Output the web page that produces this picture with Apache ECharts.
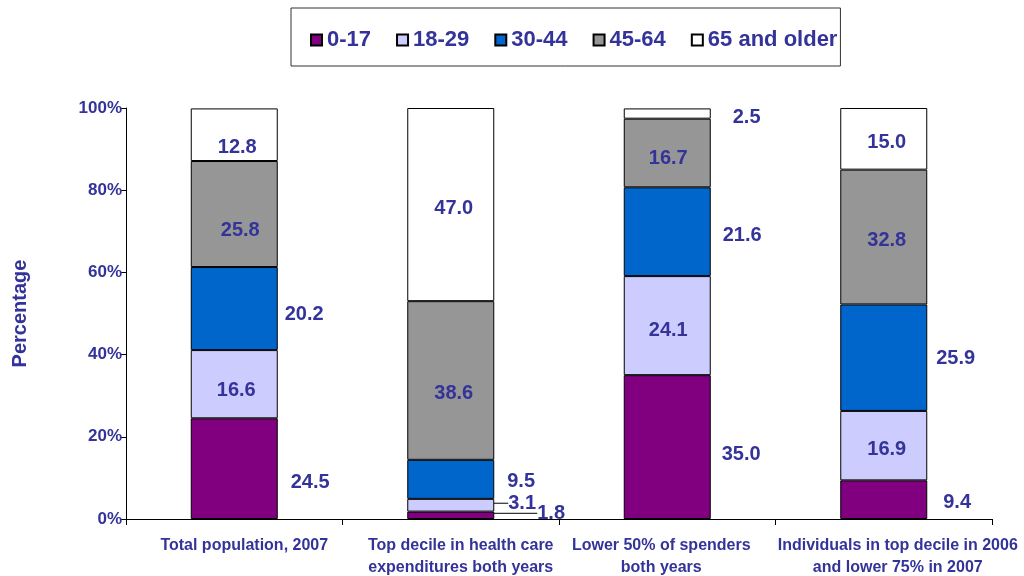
<!DOCTYPE html>
<html>
<head>
<meta charset="utf-8">
<script src="https://cdn.jsdelivr.net/npm/echarts@6/dist/echarts.min.js"></script>
<style>html,body{margin:0;padding:0;background:#fff;}#c{width:1024px;height:576px;}</style>
</head>
<body>
<div id="c"></div>
<script>
var categories = ['Total population, 2007', 'Top decile in health care\nexpenditures both years', 'Lower 50% of spenders\nboth years', 'Individuals in top decile in 2006\nand lower 75% in 2007'];
var seriesNames = ['0-17', '18-29', '30-44', '45-64', '65 and older'];
var age0_17 = [24.5, 1.8, 35.0, 9.4];
var age18_29 = [16.6, 3.1, 24.1, 16.9];
var age30_44 = [20.2, 9.5, 21.6, 25.9];
var age45_64 = [25.8, 38.6, 16.7, 32.8];
var age65plus = [12.8, 47.0, 2.5, 15.0];
var yTicks = [0, 20, 40, 60, 80, 100];

var values = [age0_17, age18_29, age30_44, age45_64, age65plus];
var colors = ['#800080', '#CCCCFF', '#0066CC', '#969696', '#FFFFFF'];
var textColor = '#333399';
var font = '"Liberation Sans", Arial, sans-serif';

// label placement styling per series per category:
// ['in', dx, dy] inside moved by dx/dy; ['r', distance, dy] to the right; ['lead', dx, dy] moved with guide line
var placement = [
  [['r', 13, 11], ['lead', 43, -5], ['r', 11, 4], ['r', 16, 0]],
  [['in', 2, 3], ['lead', 14, -5], ['in', 1, 2], ['in', 3, 1]],
  [['r', 7, 3], ['r', 13, -1], ['r', 12, 1], ['r', 9, -2]],
  [['in', 6, 13], ['in', 3, 10], ['in', 1, 2], ['in', 3, 0]],
  [['in', 3, 10], ['in', 3, 1], ['r', 22, 1], ['in', 3, 1]]
];
var baseDy = 3;
// category label horizontal shift (styling)
var catShift = [10, 10, -6, 14];

var series = seriesNames.map(function (name, s) {
  return {
    name: name,
    type: 'bar',
    stack: 'total',
    barWidth: 87,
    itemStyle: { color: colors[s], borderColor: '#000', borderWidth: 1 },
    labelLine: { show: false, lineStyle: { color: '#000', width: 1 } },
    labelLayout: function (params) {
      var p = placement[s][params.dataIndex];
      if (p[0] === 'r') return { dy: p[2] + baseDy };
      return { dx: p[1], dy: p[2] + baseDy };
    },
    data: values[s].map(function (v, i) {
      var p = placement[s][i];
      var label = {
        show: true,
        formatter: function (d) { return d.value.toFixed(1); },
        color: textColor,
        fontFamily: font,
        fontWeight: 'bold',
        fontSize: 20
      };
      var item = { value: v, label: label };
      if (p[0] === 'in') {
        label.position = 'inside';
      } else if (p[0] === 'r') {
        label.position = 'right';
        label.distance = p[1];
      } else {
        label.position = 'right';
        label.distance = 0;
        item.labelLine = { show: true, lineStyle: { color: '#000', width: 1 } };
      }
      return item;
    })
  };
});

var catData = categories.map(function (c, i) {
  var sh = catShift[i];
  return {
    value: c,
    textStyle: { padding: sh >= 0 ? [0, 0, 0, 2 * sh] : [0, -2 * sh, 0, 0] }
  };
});

var chart = echarts.init(document.getElementById('c'));
chart.setOption({
  animation: false,
  backgroundColor: '#fff',
  legend: {
    data: seriesNames,
    left: 291,
    top: 8,
    padding: [21, 3, 15, 19],
    itemGap: 25,
    itemWidth: 11,
    itemHeight: 11,
    icon: 'rect',
    borderColor: '#333',
    borderWidth: 1,
    textStyle: { color: textColor, fontFamily: font, fontWeight: 'bold', fontSize: 22 }
  },
  grid: { left: 126, right: 32, top: 108, bottom: 57, containLabel: false, outerBoundsMode: 'none' },
  xAxis: {
    type: 'category',
    data: catData,
    axisLine: { lineStyle: { color: '#000', width: 1 } },
    axisTick: { show: true, length: 6, lineStyle: { color: '#000' } },
    axisLabel: {
      interval: 0,
      margin: 16,
      color: textColor,
      fontFamily: font,
      fontWeight: 'bold',
      fontSize: 16,
      lineHeight: 22
    }
  },
  yAxis: {
    type: 'value',
    min: yTicks[0],
    max: yTicks[yTicks.length - 1],
    interval: 20,
    name: 'Percentage',
    nameLocation: 'middle',
    nameGap: 96,
    nameTextStyle: { color: textColor, fontFamily: font, fontWeight: 'bold', fontSize: 20 },
    axisLine: { show: true, lineStyle: { color: '#000', width: 1 } },
    axisTick: { show: true, length: 5, lineStyle: { color: '#000' } },
    splitLine: { show: false },
    axisLabel: {
      margin: 4,
      color: textColor,
      fontFamily: font,
      fontWeight: 'bold',
      fontSize: 17,
      formatter: function (v) { return v + '%'; }
    }
  },
  series: series
});
</script>
</body>
</html>
